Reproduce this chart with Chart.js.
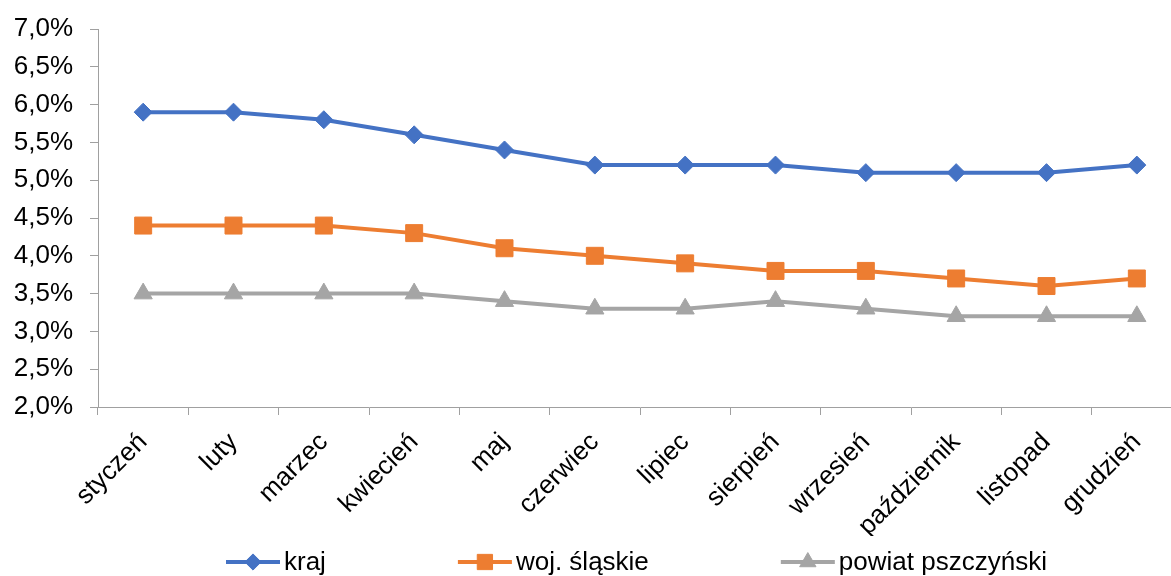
<!DOCTYPE html>
<html>
<head>
<meta charset="utf-8">
<script src="https://cdn.jsdelivr.net/npm/chart.js@4.4.1/dist/chart.umd.min.js"></script>
<style>
  html, body { margin: 0; padding: 0; background: #fff; overflow: hidden; }
  #outer { width: 1171px; height: 576px; overflow: hidden; position: relative; }
  #wrap { width: 1182px; height: 576px; position: relative; }
  canvas { display: block; }
</style>
</head>
<body>
<div id="outer"><div id="wrap"><canvas id="c" width="1182" height="576" style="width:1182px;height:576px"></canvas></div></div>
<script>
const categories = ['styczeń','luty','marzec','kwiecień','maj','czerwiec','lipiec','sierpień','wrzesień','październik','listopad','grudzień'];
const kraj = [5.9,5.9,5.8,5.6,5.4,5.2,5.2,5.2,5.1,5.1,5.1,5.2];
const slaskie = [4.4,4.4,4.4,4.3,4.1,4.0,3.9,3.8,3.8,3.7,3.6,3.7];
const pszczynski = [3.5,3.5,3.5,3.5,3.4,3.3,3.3,3.4,3.3,3.2,3.2,3.2];
const seriesNames = ['kraj','woj. śląskie','powiat pszczyński'];
const yTicks = [2.0,2.5,3.0,3.5,4.0,4.5,5.0,5.5,6.0,6.5,7.0];

const FONT = '"Liberation Sans", Arial, sans-serif';
const AXIS = '#a0a0a0';

const customLegend = {
  id: 'customLegend',
  afterDraw(chart) {
    const ctx = chart.ctx;
    ctx.save();
    ctx.font = '26px ' + FONT;
    ctx.textBaseline = 'middle';
    ctx.textAlign = 'left';
    let x = 226;
    const y = 562;
    chart.data.datasets.forEach(ds => {
      ctx.strokeStyle = ds.borderColor;
      ctx.lineWidth = 4;
      ctx.beginPath();
      ctx.moveTo(x, y);
      ctx.lineTo(x + 54, y);
      ctx.stroke();
      ctx.fillStyle = ds.pointBackgroundColor;
      ctx.strokeStyle = ds.pointBackgroundColor;
      ctx.lineWidth = 1;
      Chart.helpers.drawPoint(ctx, {pointStyle: ds.pointStyle, radius: ds.pointRadius * 0.9, rotation: 0, borderWidth: 1}, x + 27, y);
      ctx.fillStyle = '#000';
      ctx.fillText(ds.label, x + 58, y + 1);
      x = x + 58 + ctx.measureText(ds.label).width + 132;
    });
    ctx.restore();
  }
};

const mk = (label, data, color, style, r) => ({
  label, data,
  borderColor: color, backgroundColor: color,
  pointBackgroundColor: color, pointBorderColor: color,
  pointStyle: style, pointRadius: r, pointHoverRadius: r,
  pointBorderWidth: 1, borderWidth: 4, tension: 0, clip: false
});

new Chart(document.getElementById('c'), {
  type: 'line',
  data: {
    labels: categories,
    datasets: [
      mk(seriesNames[0], kraj, '#4472C4', 'rectRot', 9),
      mk(seriesNames[1], slaskie, '#ED7D31', 'rect', 12),
      mk(seriesNames[2], pszczynski, '#A5A5A5', 'triangle', 10.5)
    ]
  },
  options: {
    responsive: false,
    animation: false,
    layout: { autoPadding: false, padding: { top: 29, right: 0, bottom: 40, left: 0 } },
    plugins: { legend: { display: false }, tooltip: { enabled: false } },
    scales: {
      x: {
        offset: true,
        grid: { offset: true, drawOnChartArea: false, drawTicks: true, tickLength: 8, color: AXIS },
        border: { color: AXIS, width: 1 },
        ticks: { minRotation: 45, maxRotation: 45, color: '#000', font: { family: FONT, size: 26 }, padding: 12 },
        afterFit(s) { s.height = 129; s.paddingLeft = 0; s.paddingRight = 0; }
      },
      y: {
        min: 2, max: 7,
        afterBuildTicks(s) { s.ticks = yTicks.map(v => ({ value: v })); },
        grid: { drawOnChartArea: false, drawTicks: true, tickLength: 8, color: AXIS },
        border: { color: AXIS, width: 1 },
        ticks: {
          color: '#000', font: { family: FONT, size: 26 }, padding: 17,
          callback: v => v.toFixed(1).replace('.', ',') + '%'
        },
        afterFit(s) { s.width = 98; s.paddingTop = 0; s.paddingBottom = 0; }
      }
    }
  },
  plugins: [customLegend]
});
</script>
</body>
</html>
